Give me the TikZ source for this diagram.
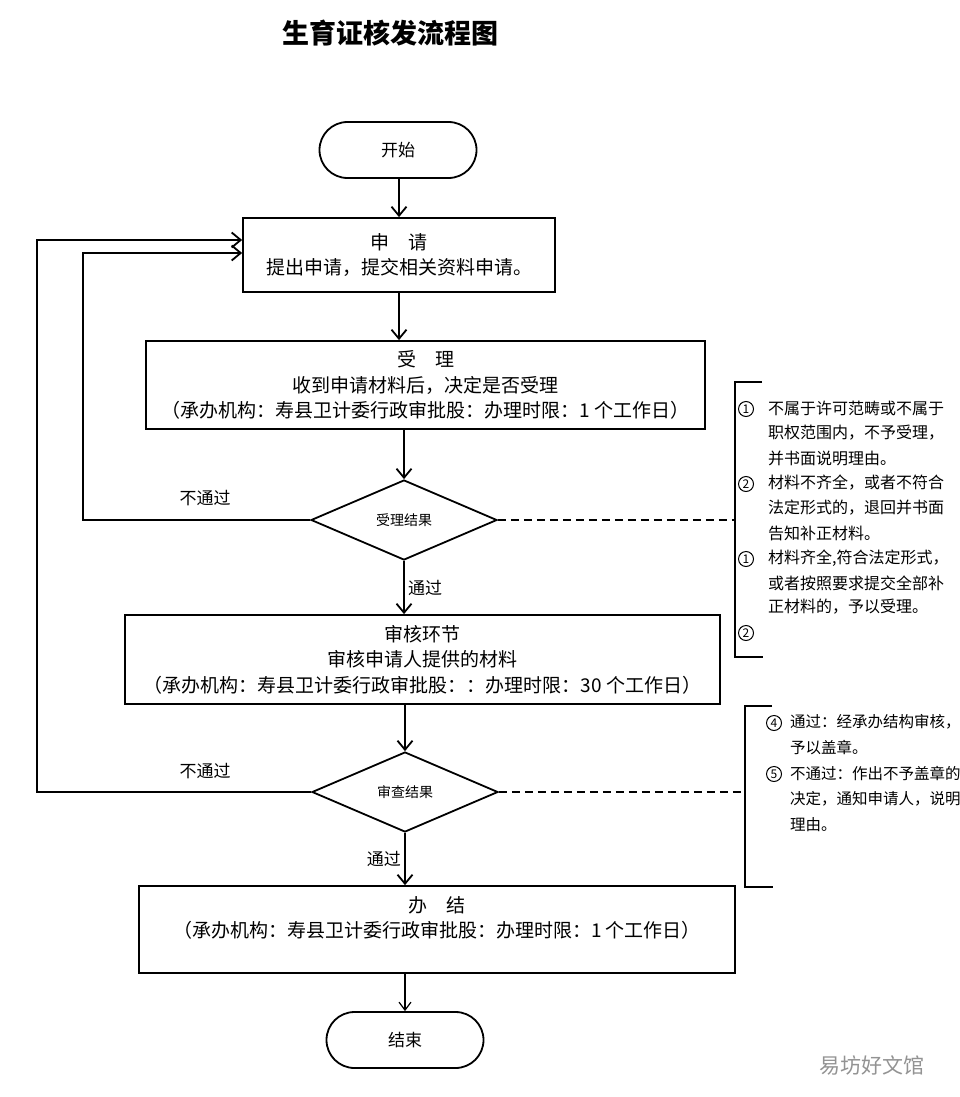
\documentclass[tikz,border=0pt]{standalone}
\usepackage{fontspec}
\setmainfont{Noto Sans CJK SC}
\usetikzlibrary{shapes.geometric,arrows.meta}

\tikzstyle{boxtext} = [font=\fontsize{19}{25.5}\selectfont]
\tikzstyle{stepbox} = [draw,line width=1.8pt,rectangle,align=center,inner sep=0pt,boxtext]
\tikzstyle{terminal} = [draw,line width=1.8pt,rectangle,rounded corners=28pt,minimum width=157pt,minimum height=56pt,font=\fontsize{17}{20}\selectfont]
\tikzstyle{decision} = [draw,diamond,line width=1.8pt,minimum width=186pt,minimum height=80pt,inner sep=0pt,font=\fontsize{14}{16}\selectfont]
\tikzstyle{flowlabel} = [font=\fontsize{17}{20}\selectfont]
\tikzstyle{notetext} = [anchor=west,inner sep=0pt,font=\fontsize{16}{18}\selectfont]
\tikzstyle{notenum} = [circle,draw,line width=1pt,minimum size=15pt,inner sep=0pt,font=\fontsize{12}{12}\selectfont]
\tikzstyle{arrowdecorate} = [-{Straight Barb[length=9pt,width=15pt]},line width=1.8pt]
\tikzstyle{noteline} = [draw,line width=1.8pt,dash pattern=on 8pt off 5pt]
\tikzstyle{bracket} = [draw,line width=2pt]

\begin{document}
\begin{tikzpicture}[x=1pt,y=-1pt]
      \useasboundingbox (0,0) rectangle (959,1097);
      %title
      \node[font=\fontsize{27}{30}\selectfont\bfseries] (title) at (390,33) {生育证核发流程图};
      %nodes
      \node[terminal] (start) at (398,150) {开始};
      \node[stepbox, minimum width=312pt, minimum height=74pt] (apply) at (399,255)
        {申\quad 请\\提出申请，提交相关资料申请。};
      \node[stepbox, minimum width=559pt, minimum height=88pt] (accept) at (425.5,385)
        {受\quad 理\\收到申请材料后，决定是否受理\\（承办机构：寿县卫计委行政审批股：办理时限：1 个工作日）};
      \node[decision] (check1) at (404,520) {受理结果};
      \node[stepbox, minimum width=595pt, minimum height=89pt] (review) at (422.5,659.5)
        {审核环节\\审核申请人提供的材料\\（承办机构：寿县卫计委行政审批股：：办理时限：30 个工作日）};
      \node[decision] (check2) at (405,792) {审查结果};
      \node[stepbox, minimum width=596pt, minimum height=87pt] (finish) at (437,929.5)
        {办\quad 结\\（承办机构：寿县卫计委行政审批股：办理时限：1 个工作日）\\ \mbox{}};
      \node[terminal] (end) at (405,1040) {结束};
      \node[font=\fontsize{21}{24}\selectfont, text=gray!85] (mark) at (872,1065) {易坊好文馆};

      %edges
      \path
      \foreach \startnode/\endnode in {start/apply, accept/check1, review/check2}
      {
        (\startnode.south -| \endnode.north) edge[arrowdecorate] (\endnode.north)
      };
      \draw[arrowdecorate] (apply.south) -- (apply.south |- accept.north);
      \path
      \foreach \startnode/\endnode/\direction in {check1/review/right, check2/finish/left}
      {
        (\startnode.south) edge[arrowdecorate] node[flowlabel, \direction] {通过} (\startnode.south |- \endnode.north)
      };
      \draw[-{Straight Barb[length=8pt,width=12pt]}, line width=1.2pt] (finish.south -| end.north) -- (end.north);

      %loops back to the application
      \coordinate (loop1) at (83,253);
      \coordinate (loop2) at (37,240);
      \draw[arrowdecorate] (check1.west) -| (loop1) -- (loop1 -| apply.west);
      \draw[arrowdecorate] (check2.west) -| (loop2) -- (loop2 -| apply.west);
      \node[flowlabel] (fail1) at (205,498) {不通过};
      \node[flowlabel] (fail2) at (205,771) {不通过};

      %notes
      \coordinate (brace1) at (735,657);
      \coordinate (brace2) at (745,887);
      \draw[bracket] (762,382) -| (brace1) -- (763,657);
      \draw[bracket] (772,706) -| (brace2) -- (773,887);
      \path[noteline] (check1.east) -- (check1.east -| brace1);
      \path[noteline] (check2.east) -- (check2.east -| brace2);

      \foreach \row/\y/\num in {a/409/1, d/484/2, g/559/1, j/633/2}
        \node[notenum] (num\row) at (746,\y) {\num};
      \foreach \row/\y/\num in {k/723/4, m/774/5}
        \node[notenum] (num\row) at (774,\y) {\num};
      \foreach \row/\y/\words in {
        a/408/不属于许可范畴或不属于, b/433/职权范围内，不予受理，,
        c/458/并书面说明理由。, d/483/材料不齐全，或者不符合,
        e/508/法定形式的，退回并书面, f/533/告知补正材料。,
        g/558/{材料齐全,符合法定形式，}, h/583/或者按照要求提交全部补,
        i/607/正材料的，予以受理。}
        \node[notetext] (note\row) at (768,\y) {\words};
      \foreach \row/\y/\words in {
        k/722/通过：经承办结构审核，, l/748/予以盖章。,
        m/773/不通过：作出不予盖章的, n/799/决定，通知申请人，说明,
        o/825/理由。}
        \node[notetext, font=\fontsize{15.5}{18}\selectfont] (note\row) at (790,\y) {\words};
\end{tikzpicture}
\end{document}
